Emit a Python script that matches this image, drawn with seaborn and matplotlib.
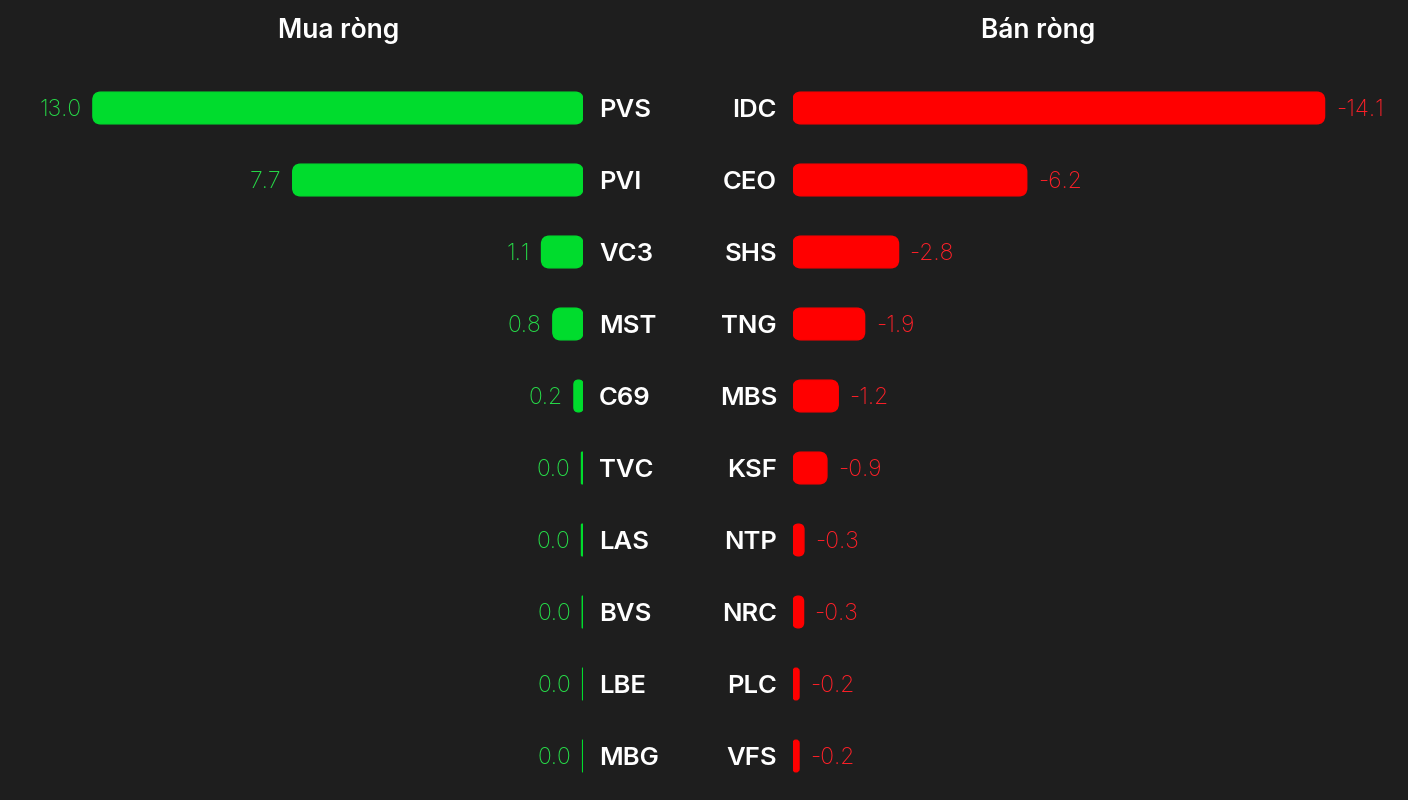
import matplotlib
matplotlib.use("Agg")
import matplotlib.pyplot as plt
import seaborn as sns
from matplotlib.patches import FancyBboxPatch

buy_tickers = ["PVS", "PVI", "VC3", "MST", "C69", "TVC", "LAS", "BVS", "LBE", "MBG"]
buy_values = [13.0, 7.7, 1.1, 0.8, 0.24, 0.04, 0.04, 0.02, 0.01, 0.01]
sell_tickers = ["IDC", "CEO", "SHS", "TNG", "MBS", "KSF", "NTP", "NRC", "PLC", "VFS"]
sell_values = [-14.1, -6.2, -2.8, -1.9, -1.2, -0.9, -0.29, -0.28, -0.16, -0.16]

BG = "#1e1e1e"
GREEN = "#00dc2d"
GREEN_TXT = "#26dc48"
RED = "#ff0000"
RED_TXT = "#ff2028"

sns.set_theme(style="white")
plt.rcParams["font.family"] = ["Inter", "DejaVu Sans"]

W, H = 1408, 800
PX_PER_UNIT = 37.7
ROW_PX = 72.0

fig = plt.figure(figsize=(W / 100, H / 100), dpi=100, facecolor=BG)

top_px = 108 - ROW_PX / 2
ax_h = ROW_PX * 10
bottom = (H - (top_px + ax_h)) / H
height = ax_h / H

axL = fig.add_axes([0, bottom, 583 / W, height])
axR = fig.add_axes([793 / W, bottom, (W - 793) / W, height])

BAR_H = 0.44
RADIUS_PX = 8.0


def style_axes(ax):
    ax.set_facecolor(BG)
    for s in ax.spines.values():
        s.set_visible(False)
    ax.set_xticks([])
    ax.set_xlabel("")
    ax.set_ylabel("")
    ax.tick_params(axis="y", length=0, pad=11.5, labelsize=18.5, labelcolor="white")
    for t in ax.get_yticklabels():
        t.set_fontweight("semibold")


def round_bars(ax, color):
    aspect = (1 / ROW_PX) / (1 / PX_PER_UNIT)
    for p in list(ax.patches):
        x, w = p.get_x(), p.get_width()
        y, h = p.get_y(), p.get_height()
        if w < 0:
            x, w = x + w, -w
        r = RADIUS_PX / PX_PER_UNIT
        r = min(r, w / 2, (h / 2) / aspect)
        fb = FancyBboxPatch((x, y), w, h,
                            boxstyle=f"round,pad=0,rounding_size={r}",
                            mutation_aspect=aspect,
                            facecolor=color, edgecolor=color, linewidth=1.0)
        p.remove()
        ax.add_patch(fb)


# Left panel: net buy
sns.barplot(x=buy_values, y=buy_tickers, orient="h", color=GREEN,
            width=BAR_H, ax=axL, saturation=1)
axL.set_xlim(583 / PX_PER_UNIT, 0)
axL.set_ylim(9.5, -0.5)
round_bars(axL, GREEN)
axL.yaxis.tick_right()
style_axes(axL)
for i, v in enumerate(buy_values):
    axL.annotate(f"{v:.1f}", xy=(v, i), xytext=(-8, -1.5), textcoords="offset points",
                 ha="right", va="center", color=GREEN_TXT, fontsize=16.5, fontweight="light")

# Right panel: net sell
sns.barplot(x=sell_values, y=sell_tickers, orient="h", color=RED,
            width=BAR_H, ax=axR, saturation=1)
axR.set_xlim(0, -(W - 793) / PX_PER_UNIT)
axR.set_ylim(9.5, -0.5)
round_bars(axR, RED)
axR.yaxis.tick_left()
style_axes(axR)
for i, v in enumerate(sell_values):
    axR.annotate(f"{v:.1f}", xy=(v, i), xytext=(8, -1.5), textcoords="offset points",
                 ha="left", va="center", color=RED_TXT, fontsize=16.5, fontweight="light")

fig.text(339 / W, 1 - 30 / H, "Mua ròng", ha="center", va="center",
         color="white", fontsize=19, fontweight="semibold")
fig.text(1038 / W, 1 - 30 / H, "Bán ròng", ha="center", va="center",
         color="white", fontsize=19, fontweight="semibold")

fig.savefig("out.png", dpi=100, facecolor=BG)
